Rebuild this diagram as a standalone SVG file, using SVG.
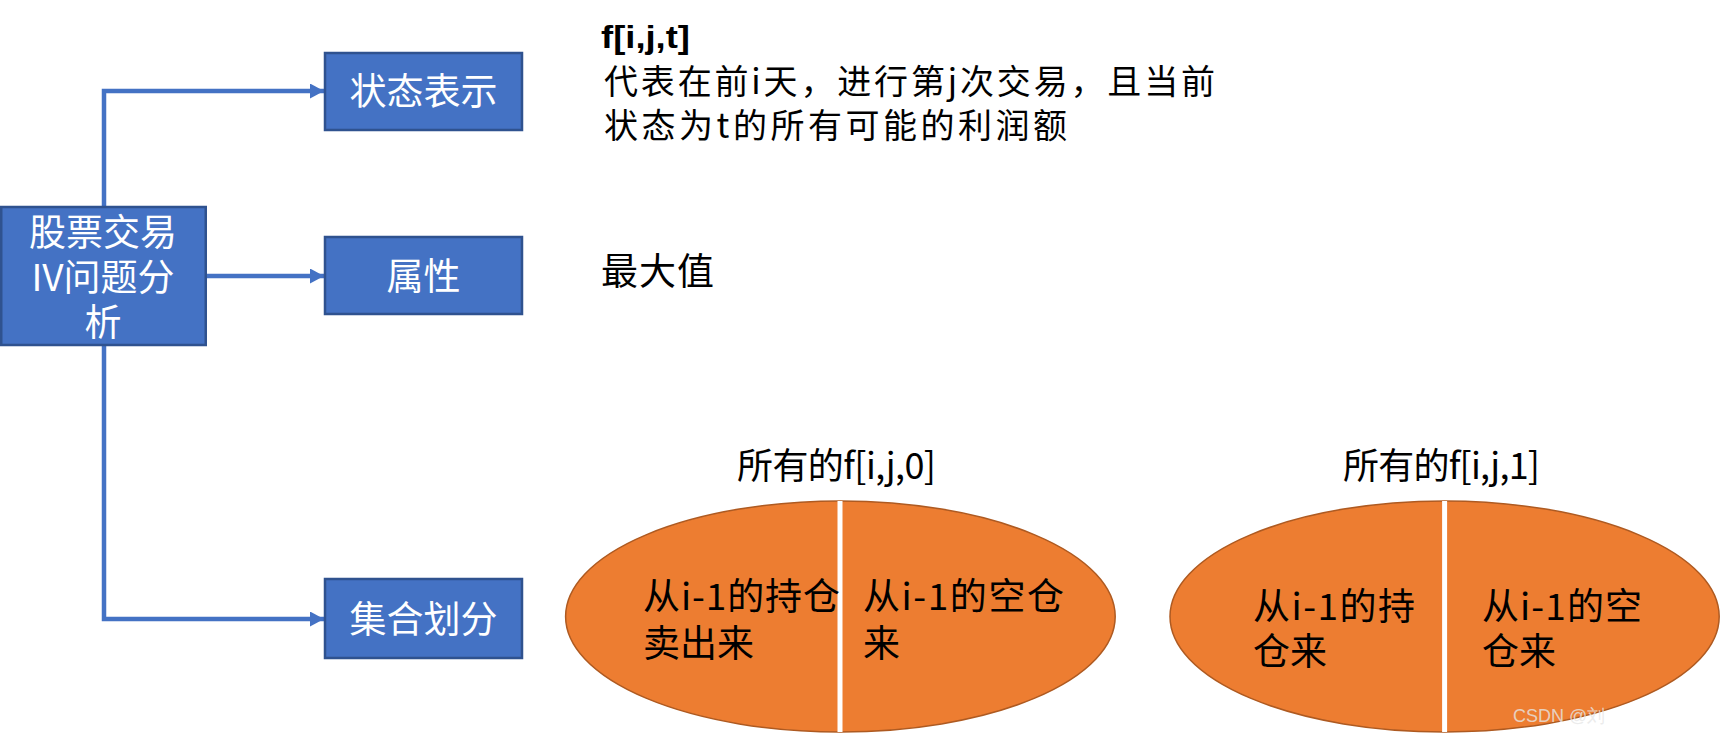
<svg xmlns="http://www.w3.org/2000/svg" width="1720" height="735" viewBox="0 0 1720 735">
<style>
.box{fill:#4472C4;stroke:#2F528F;stroke-width:2.5}
.bt{font-family:"Noto Sans CJK SC","Liberation Sans",sans-serif;font-size:37px;fill:#FFFFFF;text-anchor:middle}
.tx{font-family:"Noto Sans CJK SC","Liberation Sans",sans-serif;font-size:34px;fill:#000000}
.el{fill:#ED7D31;stroke:#AE5A21;stroke-width:1.5}
.et{font-family:"Noto Sans CJK SC","Liberation Sans",sans-serif;font-size:37px;fill:#000000}
.lt{font-family:"Noto Sans CJK SC","Liberation Sans",sans-serif;font-size:36px;fill:#000000}
.cn{fill:none;stroke:#4472C4;stroke-width:4.5}
.dv{stroke:#FFFFFF;stroke-width:5}
</style>
<defs>
<marker id="ah" markerUnits="userSpaceOnUse" markerWidth="15" markerHeight="16" refX="14" refY="7.5" orient="auto">
<path d="M0,0 L14,7.5 L0,15 z" fill="#4472C4"/>
</marker>
</defs>
<rect width="1720" height="735" fill="#FFFFFF"/>
<g id="connectors">
<path class="cn" d="M104,207 L104,91 L324,91" marker-end="url(#ah)"/>
<path class="cn" d="M206,276 L324,276" marker-end="url(#ah)"/>
<path class="cn" d="M104,345 L104,619 L324,619" marker-end="url(#ah)"/>
</g>
<g id="main">
<rect class="box" x="1.25" y="207" width="204.5" height="138"/>
<text class="bt" x="103" y="246">股票交易</text>
<text class="bt" x="103" y="291">IV问题分</text>
<text class="bt" x="103" y="336">析</text>
</g>
<g id="state">
<rect class="box" x="325" y="53" width="197" height="77"/>
<text class="bt" x="423.5" y="105">状态表示</text>
</g>
<g id="attr">
<rect class="box" x="325" y="237" width="197" height="77"/>
<text class="bt" x="423.5" y="290">属性</text>
</g>
<g id="partition">
<rect class="box" x="325" y="579" width="197" height="79"/>
<text class="bt" x="423.5" y="633">集合划分</text>
</g>
<g id="state-desc">
<text x="601" y="48" font-family="Liberation Sans, sans-serif" font-size="32" font-weight="bold" fill="#000000" textLength="89" lengthAdjust="spacingAndGlyphs">f[i,j,t]</text>
<text class="tx" x="604" y="94" textLength="611" lengthAdjust="spacing">代表在前i天，进行第j次交易，且当前</text>
<text class="tx" x="604" y="138" textLength="463" lengthAdjust="spacing">状态为t的所有可能的利润额</text>
</g>
<g id="attr-desc">
<text class="et" x="601" y="285" textLength="113" lengthAdjust="spacing">最大值</text>
</g>
<g id="set0">
<text class="lt" x="737" y="479" textLength="199" lengthAdjust="spacing">所有的f[i,j,0]</text>
<ellipse class="el" cx="840.4" cy="616.5" rx="274.8" ry="115.5"/>
<line class="dv" x1="840" y1="501" x2="840" y2="732"/>
<text class="et" x="643" y="610" textLength="197" lengthAdjust="spacing">从i-1的持仓</text>
<text class="et" x="643" y="657">卖出来</text>
<text class="et" x="863" y="610" textLength="201" lengthAdjust="spacing">从i-1的空仓</text>
<text class="et" x="863" y="657">来</text>
</g>
<g id="set1">
<text class="lt" x="1343" y="479" textLength="197" lengthAdjust="spacing">所有的f[i,j,1]</text>
<ellipse class="el" cx="1444.6" cy="616.5" rx="274.6" ry="115.5"/>
<line class="dv" x1="1444.6" y1="501" x2="1444.6" y2="732"/>
<text class="et" x="1253" y="620" textLength="162" lengthAdjust="spacing">从i-1的持</text>
<text class="et" x="1253" y="665">仓来</text>
<text class="et" x="1482" y="620" textLength="160" lengthAdjust="spacing">从i-1的空</text>
<text class="et" x="1482" y="665">仓来</text>
</g>
<text x="1513" y="722" font-family="Liberation Sans, sans-serif" font-size="18" fill="#E6E6E6" fill-opacity="0.8">CSDN @刘</text>
</svg>
